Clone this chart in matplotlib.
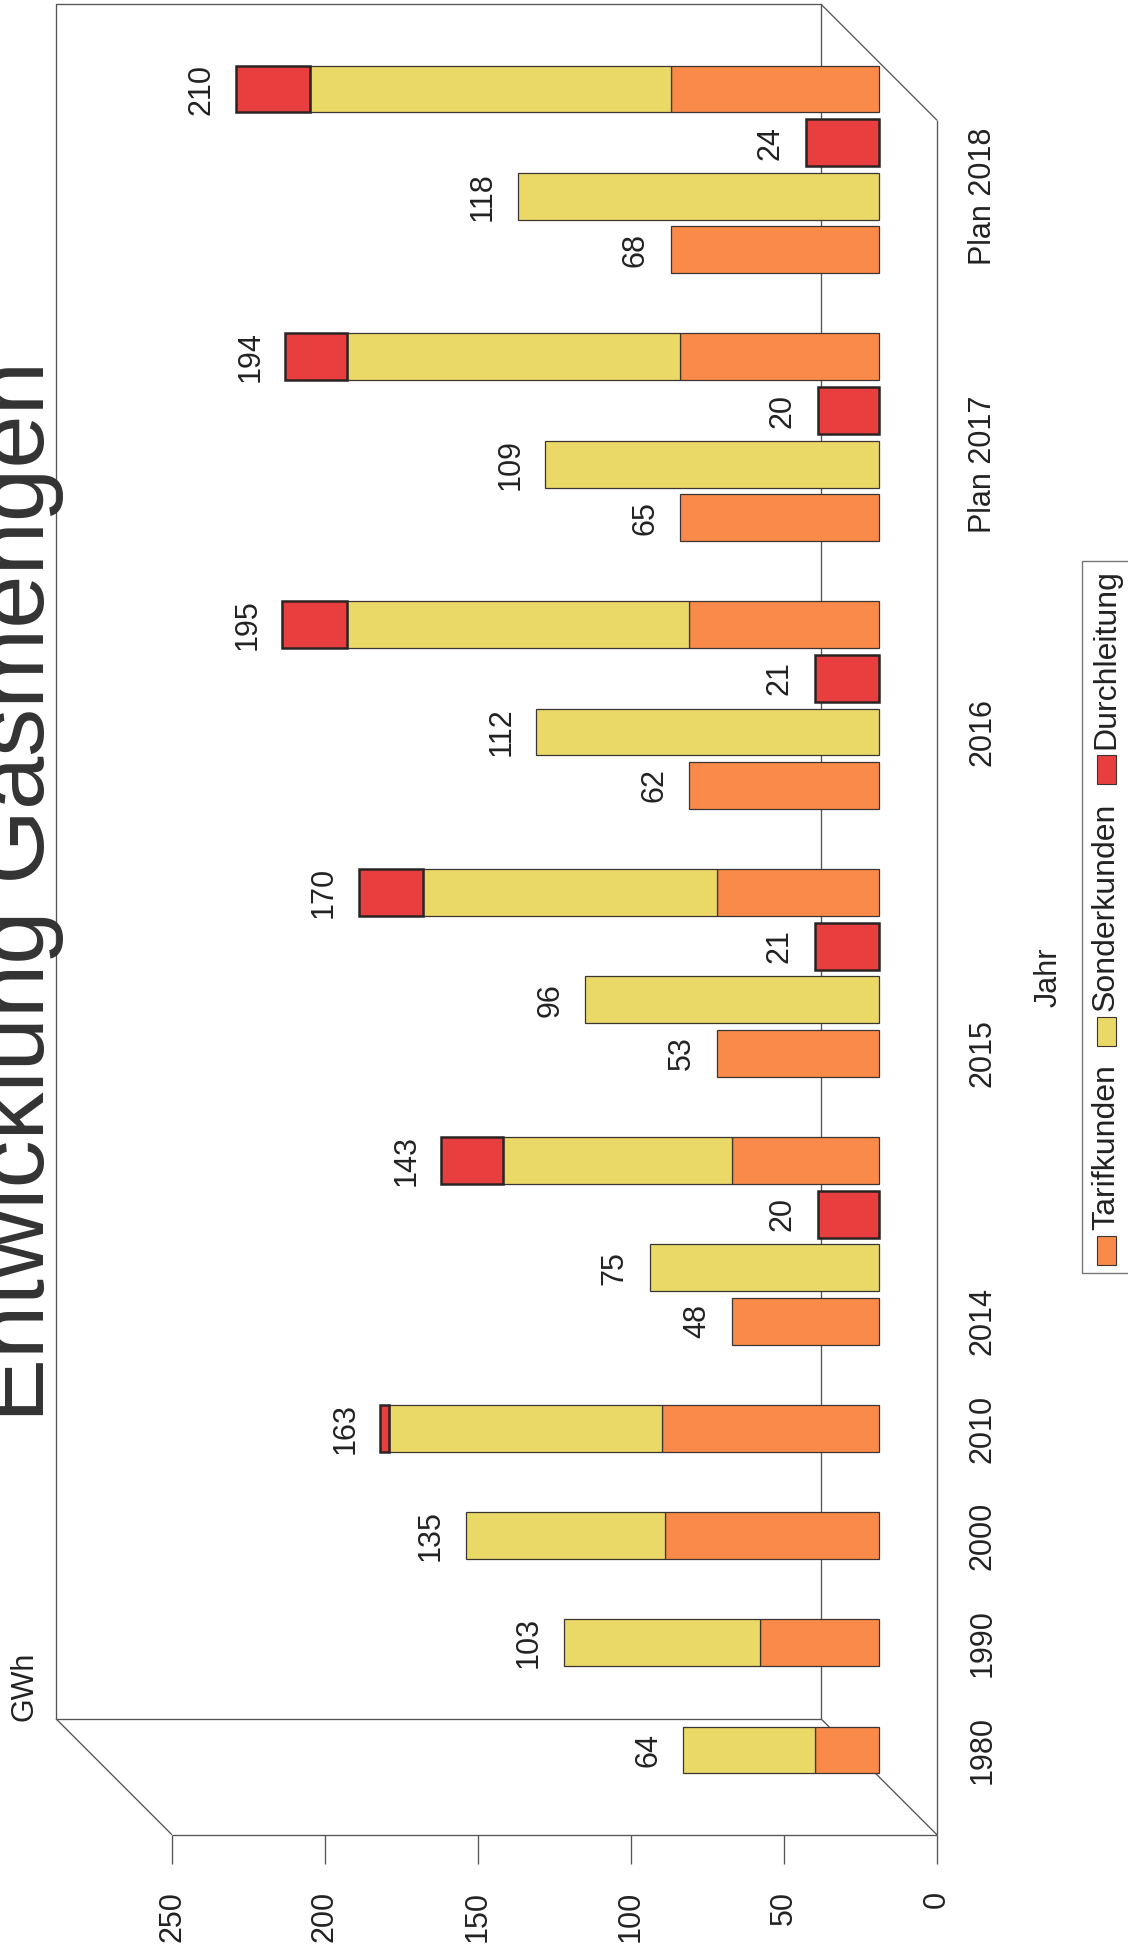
"""Entwicklung Gasmengen: stacked/split bar chart drawn in the scanned (rotated) orientation."""

import matplotlib
matplotlib.use("Agg")
import matplotlib.pyplot as plt
from matplotlib.patches import Rectangle

plt.rcParams["font.family"] = ["Liberation Sans", "DejaVu Sans"]

# data (GWh)
categories = ["1980", "1990", "2000", "2010", "2014", "2015", "2016", "Plan 2017", "Plan 2018"]
tarifkunden = [21, 39, 70, 71, 48, 53, 62, 65, 68]
sonderkunden = [43, 64, 65, 89, 75, 96, 112, 109, 118]
durchleitung = [0, 0, 0, 3, 20, 21, 21, 20, 24]
split_shown = [False, False, False, False, True, True, True, True, True]
label_slot = [0, 0, 0, 0, 0, 0, 1, 1, 1]
series_names = ["Tarifkunden", "Sonderkunden", "Durchleitung"]
series_colors = ["#F98A49", "#EAD966", "#E83F3E"]
value_ticks = [0, 50, 100, 150, 200, 250]

W, H, DPI = 1128, 1953, 100
PX_PER_UNIT = 3.06      # pixels per GWh
ZERO_PX = 879           # x pixel of value 0 on the bar plane
SLOT_PX = 53.58         # pixels per bar slot
SLOT0_PX = 1750         # y pixel (from top) of the first slot
DX = 58 / PX_PER_UNIT   # depth offset in value units
DY = 58 / SLOT_PX       # depth offset in slot units
FS = 22
LINE = "#555555"

fig = plt.figure(figsize=(W / DPI, H / DPI), dpi=DPI)
ax = fig.add_axes([0, 0, 1, 1])
ax.set_axis_off()
ax.set_xlim(ZERO_PX / PX_PER_UNIT, -(W - ZERO_PX) / PX_PER_UNIT)
ax.set_ylim(-(H - SLOT0_PX) / SLOT_PX, SLOT0_PX / SLOT_PX)

# --- 3D-ish frame: back wall, floor, value wall
lo, hi = -0.5, 31.5
vmax = value_ticks[-1]
kw = dict(color=LINE, lw=0.95, solid_capstyle="butt", zorder=1)
ax.plot([DX, vmax + DX, vmax + DX, DX, DX], [lo + DY, lo + DY, hi + DY, hi + DY, lo + DY], **kw)
ax.plot([DX, -DX], [hi + DY, hi - DY], **kw)
ax.plot([DX, -DX], [lo + DY, lo - DY], **kw)
ax.plot([-DX, -DX], [lo - DY, hi - DY], **kw)
ax.plot([vmax + DX, vmax - DX], [lo + DY, lo - DY], **kw)
ax.plot([vmax - DX, -DX], [lo - DY, lo - DY], **kw)
tick_len = 29 / SLOT_PX
for v in value_ticks:
    ax.plot([v - DX, v - DX], [lo - DY, lo - DY - tick_len], **kw)
    ax.annotate(str(v), (v - DX, lo - DY), xytext=(0, -56), textcoords="offset pixels",
                rotation=90, ha="center", va="top", fontsize=FS, color="#222222")

ax.annotate("GWh", (vmax + DX, lo + DY), xytext=(-32, -2), textcoords="offset pixels",
            rotation=90, ha="center", va="bottom", fontsize=FS, color="#222222")
ax.annotate("Jahr", (-DX, (lo + hi) / 2 - DY), xytext=(112, 0), textcoords="offset pixels",
            rotation=90, ha="center", va="center", fontsize=FS, color="#222222")

# --- bars
BAR_H = 0.875


def edge_style(k):
    if k == 2:
        return dict(edgecolor="#2b2424", linewidth=1.8)
    return dict(edgecolor="#3c3430", linewidth=0.9)


def value_label(v, y):
    ax.annotate(str(v), (v, y), xytext=(-20, 0), textcoords="offset pixels",
                rotation=90, ha="right", va="center", fontsize=FS, color="#222222", zorder=5)


slot = 0
for i, cat in enumerate(categories):
    parts = [tarifkunden[i], sonderkunden[i], durchleitung[i]]
    first = slot
    if split_shown[i]:
        for k, v in enumerate(parts):
            ax.barh(slot, v, height=BAR_H, color=series_colors[k], zorder=3, **edge_style(k))
            value_label(v, slot)
            slot += 1
    left = 0
    for k, v in enumerate(parts):
        if v > 0:
            ax.barh(slot, v, left=left, height=BAR_H, color=series_colors[k], zorder=3, **edge_style(k))
        left += v
    value_label(sum(parts), slot)
    slot += 2
    ax.annotate(cat, (-DX, first + label_slot[i]), xytext=(46, 0), textcoords="offset pixels",
                rotation=90, ha="center", va="center", fontsize=FS, color="#222222")

# --- title (partly cut by the scan edge)
fig.text(44 / W, 1 - 891 / H, "Entwicklung Gasmengen", rotation=90, rotation_mode="anchor",
         ha="center", va="baseline", fontsize=69, color="#333333")

# --- legend, rotated like the rest of the page
renderer = fig.canvas.get_renderer()
box_left, box_bottom, box_top = 1082, 1273, 561
fig.patches.append(Rectangle((box_left / W, 1 - box_bottom / H), (W + 10 - box_left) / W,
                             (box_bottom - box_top) / H, transform=fig.transFigure,
                             facecolor="white", edgecolor="#777777", lw=1.0, zorder=0))
LEG_FS = 23
texts = [fig.text(1106 / W, 0.5, name, rotation=90, ha="center", va="bottom",
                  fontsize=LEG_FS, color="#222222") for name in series_names]
lengths = [t.get_window_extent(renderer).height for t in texts]
patch_h, patch_gap, pad = 29, 6, 8
free = (box_bottom - box_top) - 2 * pad - 3 * (patch_h + patch_gap) - sum(lengths)
entry_gap = max(free / 2, 4)
y = box_bottom - pad
for t, length, col in zip(texts, lengths, series_colors):
    fig.patches.append(Rectangle((1097 / W, 1 - y / H), 19 / W, patch_h / H, transform=fig.transFigure,
                                 facecolor=col, edgecolor="#3c3430", lw=0.8))
    y -= patch_h + patch_gap
    t.set_position((1106 / W, 1 - y / H))
    y -= length + entry_gap

fig.savefig("out.png", dpi=DPI, facecolor="white")
